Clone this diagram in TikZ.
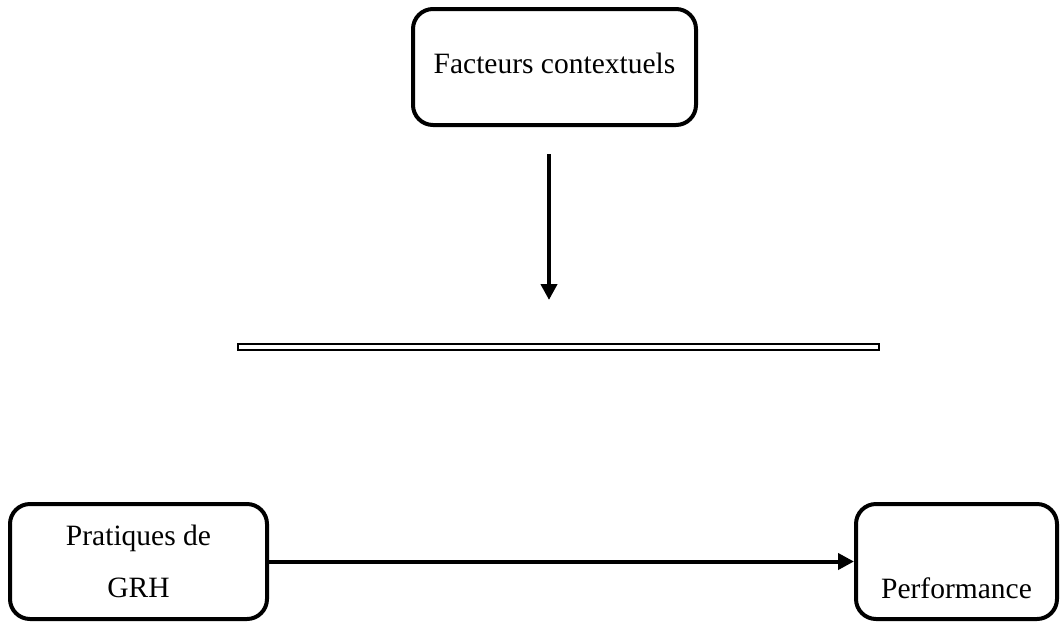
\documentclass[tikz,border=0pt]{standalone}
\usepackage{fontspec}
\setmainfont{Liberation Serif}
\usetikzlibrary{arrows.meta}
\begin{document}
\begin{tikzpicture}[x=1pt,y=-1pt,
  boxnode/.style={draw,line width=4pt,rounded corners=20pt,inner sep=0pt,align=center,
    font=\fontsize{29.5}{52}\selectfont},
  conn/.style={line width=4pt,-{Triangle[length=16pt,width=16pt]}},
  barline/.style={draw,line width=2.6pt,fill=white,inner sep=0pt}]
\useasboundingbox (0,0) rectangle (1060,622);
\node[boxnode,minimum width=283pt,minimum height=116pt] (fc) at (554.5,67) {Facteurs contextuels\\[-44pt]\mbox{}};
\coordinate (a1) at (549,154);
\coordinate (a2) at (549,300);
\draw[conn] (a1) -- (a2);
\node[barline,minimum width=641pt,minimum height=6pt] (bar) at (558.5,347) {};
\node[boxnode,minimum width=257pt,minimum height=115pt] (grh) at (138.5,561.5) {Pratiques de\\GRH};
\node[boxnode,minimum width=201pt,minimum height=115pt] (perf) at (956.5,561.5) {\mbox{}\\[22pt]Performance};
\draw[conn] (grh.east) -- (perf.west);
\end{tikzpicture}
\end{document}
